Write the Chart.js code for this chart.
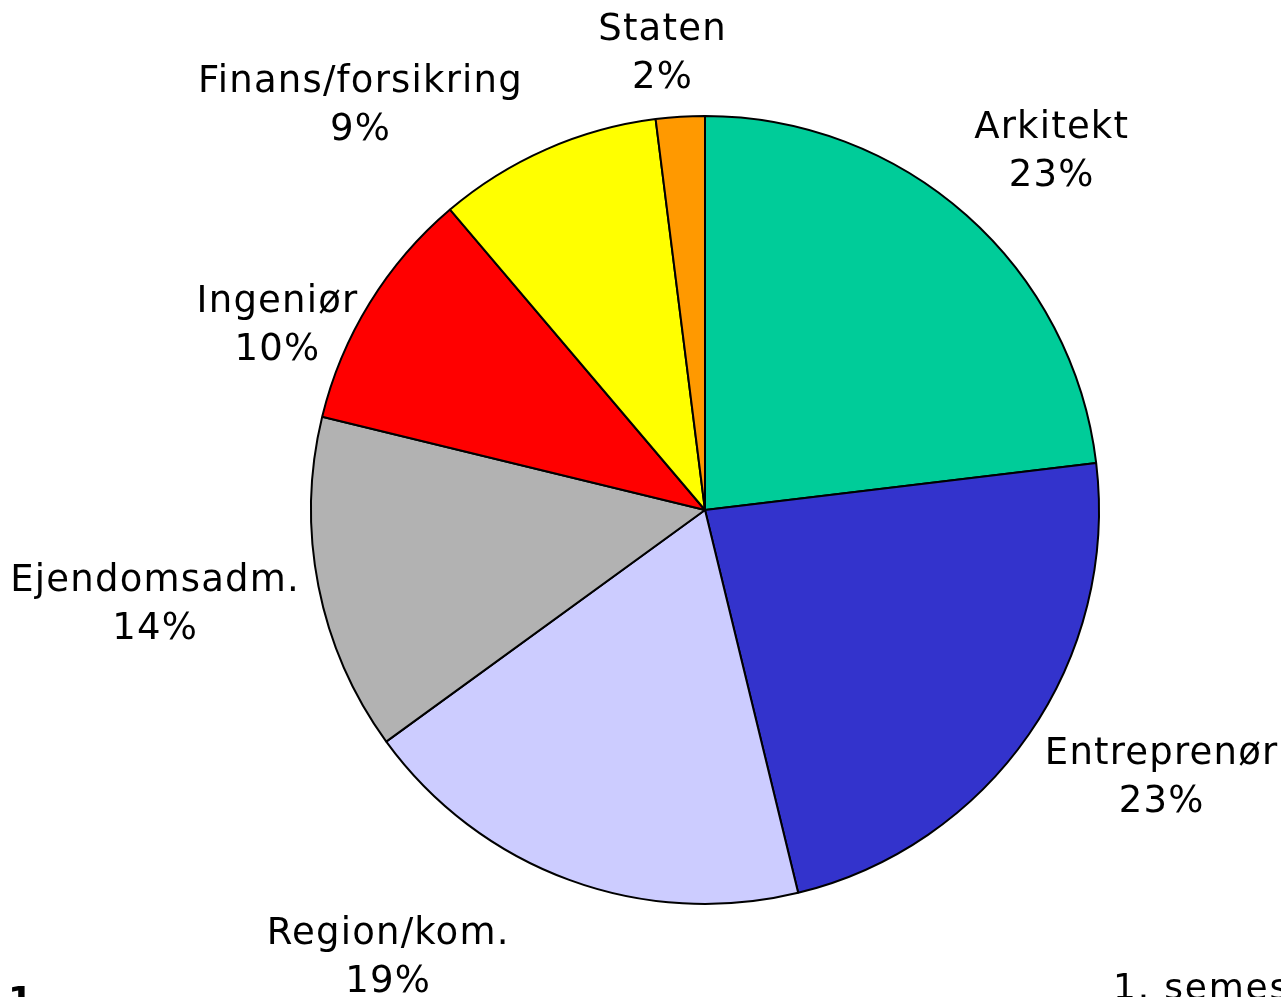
<!DOCTYPE html>
<html>
<head>
<meta charset="utf-8">
<script src="https://cdn.jsdelivr.net/npm/chart.js@4/dist/chart.umd.min.js"></script>
<style>
    html, body { margin: 0; padding: 0; background: #fff; }
    #pieChart { display: block; }
</style>
</head>
<body>
<canvas id="pieChart" width="1281" height="997"></canvas>
<script>
// Fordeling pr. branche (andel i %)
const categories = ['Arkitekt', 'Entreprenør', 'Region/kom.', 'Ejendomsadm.', 'Ingeniør', 'Finans/forsikring', 'Staten'];
const shares = [23.1, 23.1, 18.8, 13.8, 10.0, 9.2, 2.0];
const sliceColors = ['#00CC99', '#3333CC', '#CCCCFF', '#B2B2B2', '#FF0000', '#FFFF00', '#FF9900'];

const FONT = '"DejaVu Sans", Verdana, sans-serif';

// labels placed outside the pie: angle from 12 o'clock (deg) and distance in radii
const labelLayout = [
    { angle: 43.9, dist: 1.269 },
    { angle: 120.2, dist: 1.341 },
    { angle: 215.4, dist: 1.388 },
    { angle: 260.5, dist: 1.415 },
    { angle: 293.6, dist: 1.184 },
    { angle: 319.7, dist: 1.352 },
    { angle: 354.7, dist: 1.168 }
];

const outsideLabels = {
    id: 'outsideLabels',
    afterDatasetsDraw(chart) {
        const { ctx } = chart;
        const arcs = chart.getDatasetMeta(0).data;
        const total = shares.reduce((a, b) => a + b, 0);
        ctx.save();
        ctx.fillStyle = '#000';
        ctx.font = '37px ' + FONT;
        ctx.letterSpacing = '1.2px';
        ctx.textAlign = 'center';
        ctx.textBaseline = 'middle';
        arcs.forEach((arc, i) => {
            const pos = labelLayout[i];
            const a = pos.angle * Math.PI / 180;
            const r = arc.outerRadius * pos.dist;
            const cx = arc.x + r * Math.sin(a);
            const cy = arc.y - r * Math.cos(a) + 3;
            const pct = Math.round(shares[i] / total * 100) + '%';
            ctx.fillText(categories[i], cx, cy - 24);
            ctx.fillText(pct, cx, cy + 24);
        });
        ctx.restore();
    },
    afterDraw(chart) {
        const { ctx } = chart;
        ctx.save();
        ctx.fillStyle = '#000';
        ctx.textBaseline = 'alphabetic';
        // cut-off slide texts along the bottom edge
        ctx.font = 'bold 36px ' + FONT;
        ctx.textAlign = 'right';
        ctx.fillText('Figur 1', 33, 1012);
        ctx.font = '36px ' + FONT;
        ctx.letterSpacing = '1.8px';
        ctx.textAlign = 'left';
        ctx.fillText('1. semester', 1113, 999);
        ctx.restore();
    }
};

const ctx = document.getElementById('pieChart').getContext('2d');
new Chart(ctx, {
    type: 'pie',
    data: {
        labels: categories,
        datasets: [{
            data: shares,
            backgroundColor: sliceColors,
            borderColor: '#000',
            borderWidth: 2
        }]
    },
    options: {
        responsive: false,
        animation: false,
        layout: {
            padding: { left: 310, right: 181, top: 115, bottom: 92 }
        },
        plugins: {
            legend: { display: false },
            tooltip: { enabled: false }
        }
    },
    plugins: [outsideLabels]
});
</script>
</body>
</html>
